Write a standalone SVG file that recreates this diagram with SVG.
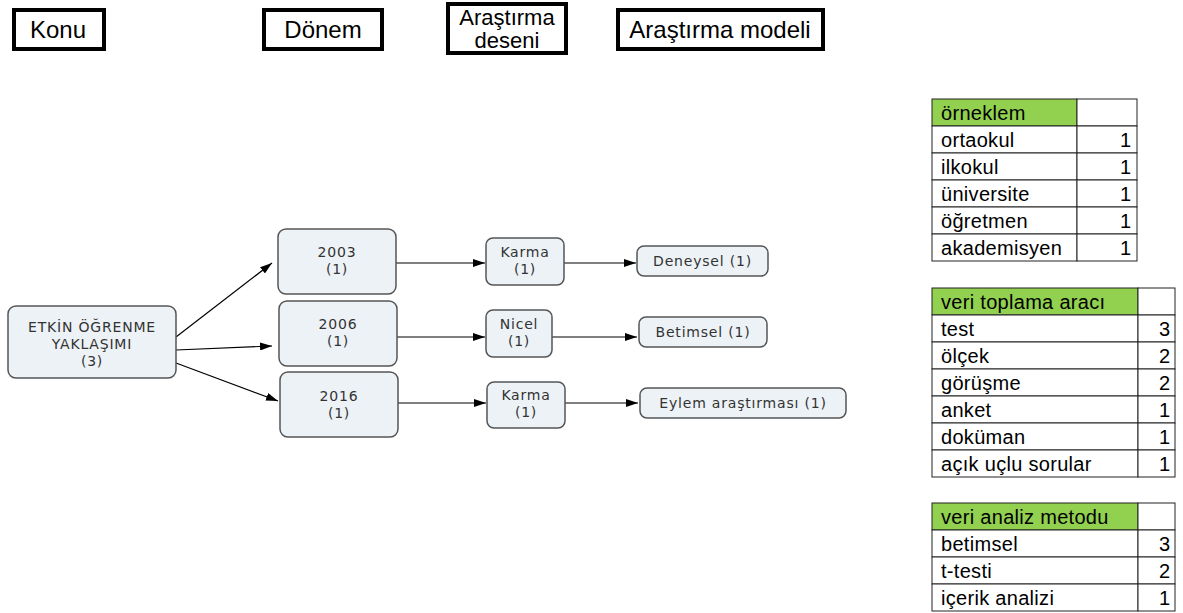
<svg xmlns="http://www.w3.org/2000/svg" width="1183" height="613" viewBox="0 0 1183 613">
<style>
.hdr{fill:#fff;stroke:#000;stroke-width:4}
.ht{font-family:"Liberation Sans",Arial,sans-serif;font-size:24px;fill:#000;text-anchor:middle}
.ht2{font-family:"Liberation Sans",Arial,sans-serif;font-size:22px;fill:#000;text-anchor:middle}
.nd{fill:#edf2f6;stroke:#555;stroke-width:1.5}
.nt{font-family:"DejaVu Sans",Verdana,sans-serif;font-size:14px;letter-spacing:0.8px;fill:#333;text-anchor:middle}
.cn{stroke:#000;stroke-width:1.2;fill:none;marker-end:url(#ah)}
.cell{fill:#fff;stroke:#222;stroke-width:1}
.gr{fill:#92d050;stroke:#222;stroke-width:1}
.tt{font-family:"Liberation Sans",Arial,sans-serif;font-size:20px;letter-spacing:0.3px;fill:#000}
.tn{font-family:"Liberation Sans",Arial,sans-serif;font-size:20px;fill:#000;text-anchor:end}
</style>
<defs>
<marker id="ah" viewBox="0 0 12 8" refX="12" refY="4" markerWidth="12" markerHeight="8" markerUnits="userSpaceOnUse" orient="auto">
<path d="M0,0 L12,4 L0,8 z" fill="#000"/>
</marker>
</defs>
<rect width="1183" height="613" fill="#fff"/>

<g id="h-konu"><rect class="hdr" x="14" y="10" width="90" height="39"/><text class="ht" x="58" y="38">Konu</text></g>
<g id="h-donem"><rect class="hdr" x="264" y="10" width="118" height="39"/><text class="ht" x="323" y="38">Dönem</text></g>
<g id="h-desen"><rect class="hdr" x="448" y="4" width="118" height="49"/><text class="ht2" x="507" y="25">Araştırma</text><text class="ht2" x="507" y="48">deseni</text></g>
<g id="h-model"><rect class="hdr" x="618" y="10" width="205" height="39"/><text class="ht" x="720" y="38">Araştırma modeli</text></g>

<g id="connectors">
<line class="cn" x1="176" y1="337" x2="272" y2="263"/>
<line class="cn" x1="176" y1="350" x2="272" y2="346"/>
<line class="cn" x1="176" y1="363" x2="278" y2="401"/>
<line class="cn" x1="396" y1="263" x2="485" y2="263"/>
<line class="cn" x1="397" y1="337" x2="485" y2="337"/>
<line class="cn" x1="398" y1="403" x2="486" y2="403"/>
<line class="cn" x1="564" y1="263" x2="636" y2="263"/>
<line class="cn" x1="552" y1="337" x2="637" y2="337"/>
<line class="cn" x1="565" y1="403" x2="638" y2="403"/>
</g>

<g id="n-etkin"><rect class="nd" x="8" y="306" width="168" height="72" rx="8"/><text class="nt" x="92" y="332">ETKİN ÖĞRENME</text><text class="nt" x="92" y="349">YAKLAŞIMI</text><text class="nt" x="92" y="366">(3)</text></g>
<g id="n-2003"><rect class="nd" x="278" y="229" width="118" height="65" rx="8"/><text class="nt" x="337" y="257">2003</text><text class="nt" x="337" y="274">(1)</text></g>
<g id="n-2006"><rect class="nd" x="279" y="301" width="118" height="65" rx="8"/><text class="nt" x="338" y="329">2006</text><text class="nt" x="338" y="346">(1)</text></g>
<g id="n-2016"><rect class="nd" x="280" y="372" width="118" height="65" rx="8"/><text class="nt" x="339" y="401">2016</text><text class="nt" x="339" y="418">(1)</text></g>
<g id="n-karma1"><rect class="nd" x="486" y="238" width="78" height="47" rx="7"/><text class="nt" x="525" y="257">Karma</text><text class="nt" x="525" y="274">(1)</text></g>
<g id="n-nicel"><rect class="nd" x="486" y="310" width="66" height="47" rx="7"/><text class="nt" x="519" y="329">Nicel</text><text class="nt" x="519" y="346">(1)</text></g>
<g id="n-karma2"><rect class="nd" x="487" y="382" width="78" height="46" rx="7"/><text class="nt" x="526" y="400">Karma</text><text class="nt" x="526" y="417">(1)</text></g>
<g id="n-deneysel"><rect class="nd" x="637" y="246" width="131" height="30" rx="7"/><text class="nt" x="702.5" y="266">Deneysel (1)</text></g>
<g id="n-betimsel"><rect class="nd" x="639" y="317" width="128" height="30" rx="7"/><text class="nt" x="703" y="337">Betimsel (1)</text></g>
<g id="n-eylem"><rect class="nd" x="640" y="388" width="206" height="30" rx="7"/><text class="nt" x="743" y="408">Eylem araştırması (1)</text></g>

<g id="t-orneklem">
<rect class="gr" x="932" y="99" width="145" height="27"/><rect class="cell" x="1077" y="99" width="60" height="27"/>
<text class="tt" x="941" y="120">örneklem</text>
<rect class="cell" x="932" y="126" width="145" height="27"/><rect class="cell" x="1077" y="126" width="60" height="27"/>
<text class="tt" x="941" y="147">ortaokul</text><text class="tn" x="1131" y="147">1</text>
<rect class="cell" x="932" y="153" width="145" height="27"/><rect class="cell" x="1077" y="153" width="60" height="27"/>
<text class="tt" x="941" y="174">ilkokul</text><text class="tn" x="1131" y="174">1</text>
<rect class="cell" x="932" y="180" width="145" height="27"/><rect class="cell" x="1077" y="180" width="60" height="27"/>
<text class="tt" x="941" y="201">üniversite</text><text class="tn" x="1131" y="201">1</text>
<rect class="cell" x="932" y="207" width="145" height="27"/><rect class="cell" x="1077" y="207" width="60" height="27"/>
<text class="tt" x="941" y="228">öğretmen</text><text class="tn" x="1131" y="228">1</text>
<rect class="cell" x="932" y="234" width="145" height="27"/><rect class="cell" x="1077" y="234" width="60" height="27"/>
<text class="tt" x="941" y="255">akademisyen</text><text class="tn" x="1131" y="255">1</text>
</g>

<g id="t-veri-toplama">
<rect class="gr" x="932" y="288" width="206" height="27"/><rect class="cell" x="1138" y="288" width="37" height="27"/>
<text class="tt" x="941" y="309">veri toplama aracı</text>
<rect class="cell" x="932" y="315" width="206" height="27"/><rect class="cell" x="1138" y="315" width="37" height="27"/>
<text class="tt" x="941" y="336">test</text><text class="tn" x="1170" y="336">3</text>
<rect class="cell" x="932" y="342" width="206" height="27"/><rect class="cell" x="1138" y="342" width="37" height="27"/>
<text class="tt" x="941" y="363">ölçek</text><text class="tn" x="1170" y="363">2</text>
<rect class="cell" x="932" y="369" width="206" height="27"/><rect class="cell" x="1138" y="369" width="37" height="27"/>
<text class="tt" x="941" y="390">görüşme</text><text class="tn" x="1170" y="390">2</text>
<rect class="cell" x="932" y="396" width="206" height="27"/><rect class="cell" x="1138" y="396" width="37" height="27"/>
<text class="tt" x="941" y="417">anket</text><text class="tn" x="1170" y="417">1</text>
<rect class="cell" x="932" y="423" width="206" height="27"/><rect class="cell" x="1138" y="423" width="37" height="27"/>
<text class="tt" x="941" y="444">doküman</text><text class="tn" x="1170" y="444">1</text>
<rect class="cell" x="932" y="450" width="206" height="27"/><rect class="cell" x="1138" y="450" width="37" height="27"/>
<text class="tt" x="941" y="471">açık uçlu sorular</text><text class="tn" x="1170" y="471">1</text>
</g>

<g id="t-veri-analiz">
<rect class="gr" x="932" y="503" width="206" height="27"/><rect class="cell" x="1138" y="503" width="37" height="27"/>
<text class="tt" x="941" y="524">veri analiz metodu</text>
<rect class="cell" x="932" y="530" width="206" height="27"/><rect class="cell" x="1138" y="530" width="37" height="27"/>
<text class="tt" x="941" y="551">betimsel</text><text class="tn" x="1170" y="551">3</text>
<rect class="cell" x="932" y="557" width="206" height="27"/><rect class="cell" x="1138" y="557" width="37" height="27"/>
<text class="tt" x="941" y="578">t-testi</text><text class="tn" x="1170" y="578">2</text>
<rect class="cell" x="932" y="584" width="206" height="27"/><rect class="cell" x="1138" y="584" width="37" height="27"/>
<text class="tt" x="941" y="605">içerik analizi</text><text class="tn" x="1170" y="605">1</text>
</g>
</svg>
